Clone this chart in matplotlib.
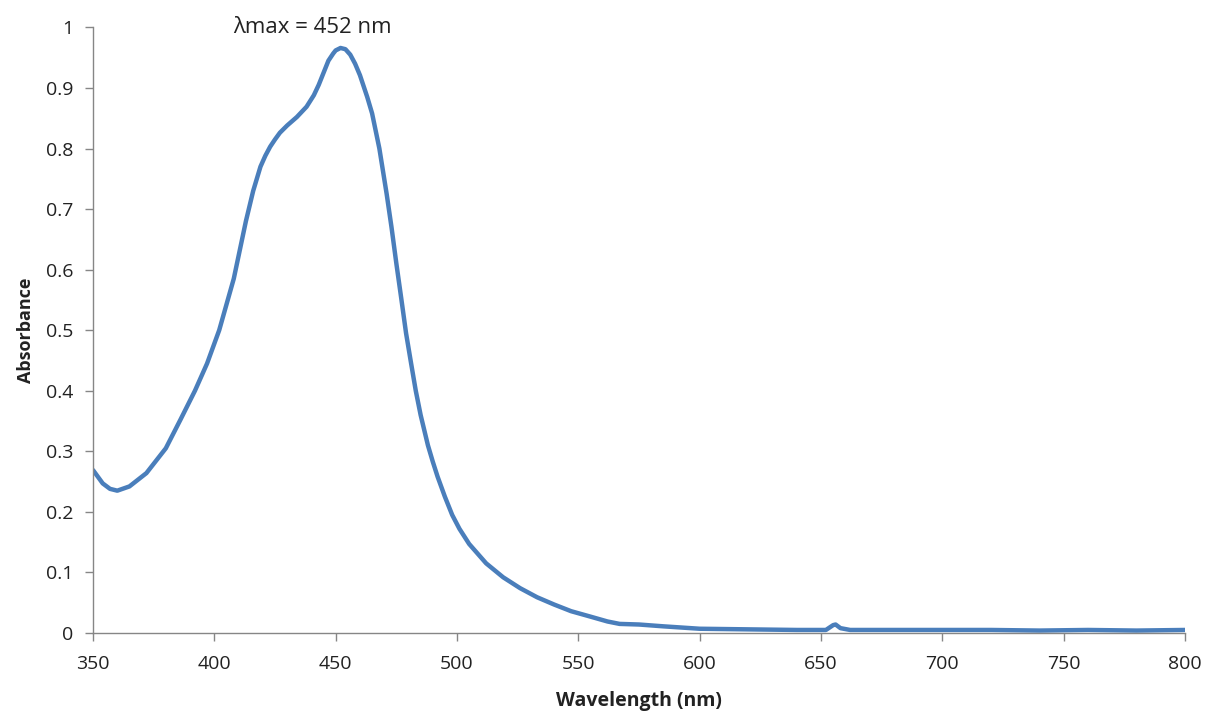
import numpy as np
import matplotlib.pyplot as plt
from matplotlib.ticker import FuncFormatter

# UV-vis spectrum, values
wavelength = [350, 354, 357, 360, 365, 372, 380, 386, 392, 397, 402, 408, 413,
              416, 419, 421, 423, 425, 427, 430, 434, 438, 441, 443, 445, 447,
              449, 450, 452, 454, 456, 458, 460, 463, 465, 468, 471, 473, 475,
              477, 479, 481, 483, 485, 488, 490, 492, 495, 498, 501, 505, 512,
              519, 526, 533, 540, 547, 555, 562, 567, 575, 585, 600, 620, 640,
              652, 655, 656, 658, 662, 680, 700, 720, 740, 760, 780, 800]
absorbance = [0.269, 0.247, 0.238, 0.235, 0.242, 0.264, 0.305, 0.352, 0.400,
              0.445, 0.500, 0.585, 0.680, 0.730, 0.770, 0.788, 0.803, 0.815,
              0.826, 0.838, 0.852, 0.869, 0.888, 0.905, 0.925, 0.945, 0.957,
              0.962, 0.966, 0.964, 0.955, 0.940, 0.921, 0.885, 0.858, 0.800,
              0.725, 0.670, 0.610, 0.553, 0.495, 0.447, 0.400, 0.360, 0.310,
              0.283, 0.258, 0.225, 0.195, 0.172, 0.147, 0.115, 0.092, 0.074,
              0.059, 0.047, 0.036, 0.027, 0.019, 0.015, 0.014, 0.011, 0.007,
              0.006, 0.005, 0.005, 0.013, 0.014, 0.008, 0.005, 0.005, 0.005,
              0.005, 0.004, 0.005, 0.004, 0.005]

x_ticks = [350, 400, 450, 500, 550, 600, 650, 700, 750, 800]
y_ticks = [0, 0.1, 0.2, 0.3, 0.4, 0.5, 0.6, 0.7, 0.8, 0.9, 1]
peak_label = 'λmax = 452 nm'

plt.rcParams['font.family'] = ['Open Sans', 'DejaVu Sans']

fig = plt.figure(figsize=(12.08, 7.15), dpi=100)
fig.patch.set_facecolor('white')
ax = fig.add_axes([0.077, 0.1147, 0.904, 0.847])

ax.plot(wavelength, absorbance, color='#4a7ebb', lw=3.2,
        solid_joinstyle='round', solid_capstyle='round')

ax.set_xlim(350, 800)
ax.set_ylim(0, 1)
ax.set_xticks(x_ticks)
ax.set_yticks(y_ticks)
ax.yaxis.set_major_formatter(FuncFormatter(lambda v, p: '{:g}'.format(round(v, 1))))

for s in ['top', 'right']:
    ax.spines[s].set_visible(False)
for s in ['left', 'bottom']:
    ax.spines[s].set_color('#868686')
    ax.spines[s].set_linewidth(1.0)

ax.tick_params(axis='both', direction='out', color='#868686', length=6,
               width=1.0, labelsize=14, labelcolor='#222222')
ax.tick_params(axis='x', pad=10)
ax.tick_params(axis='y', pad=8)

ax.set_xlabel('Wavelength (nm)', fontsize=14, fontweight='bold', labelpad=13,
              color='#222222')
ax.set_ylabel('Absorbance', fontsize=13, fontweight='bold', labelpad=8,
              color='#222222')

ax.text(440.5, 1.0, peak_label, fontsize=16, ha='center', va='center',
        color='#222222')

fig.savefig('out.png', dpi=100)
